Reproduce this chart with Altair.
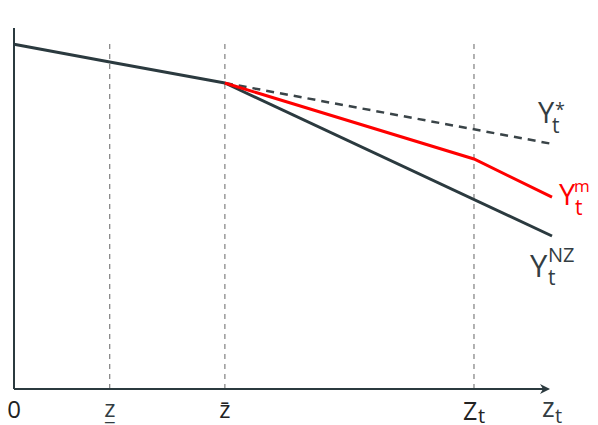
import altair as alt
import pandas as pd

# ---- data ----
tick_x = [0.0, 1.78, 3.92, 8.55]          # 0, z_, z-bar, Z_t
x_end = 10.0
common_x = [0.0, 1.78, 3.92]
common_y = [10.03, 9.51, 8.90]
nz_x = [3.92, 10.0]
nz_y = [8.90, 4.45]
m_x = [3.92, 8.55, 10.0]
m_y = [8.90, 6.69, 5.58]
star_x = [3.92, 10.0]
star_y = [8.90, 7.13]
y_top = 10.5
grid_top = 10.1
axis_x_end = 9.93
arrow_x = 9.87

DARK = "#2b3a3f"
TEXT = "#333d42"
RED = "#ff0000"
FONT = "Open Sans"

xs = alt.Scale(domain=[0, 10], nice=False, zero=False)
ys = alt.Scale(domain=[0, y_top], nice=False, zero=False)
X = lambda f="x": alt.X(f"{f}:Q", scale=xs, axis=None)
Y = lambda f="y": alt.Y(f"{f}:Q", scale=ys, axis=None)


def line(xv, yv, color, width=3, dash=None):
    df = pd.DataFrame({"x": xv, "y": yv})
    kw = dict(color=color, strokeWidth=width, strokeCap="butt")
    if dash:
        kw["strokeDash"] = dash
    return alt.Chart(df).mark_line(**kw).encode(x=X(), y=Y())


def label(text, x, y, dx, dy, size, color=TEXT, align="left"):
    df = pd.DataFrame({"x": [x], "y": [y], "t": [text]})
    return alt.Chart(df).mark_text(
        dx=dx, dy=dy, fontSize=size, font=FONT, color=color,
        align=align, baseline="alphabetic"
    ).encode(x=X(), y=Y(), text="t:N")


grid = alt.Chart(pd.DataFrame({"x": tick_x[1:], "y": [0] * 3, "y2": [grid_top] * 3})).mark_rule(
    color="#666666", strokeWidth=1, strokeDash=[5, 5]
).encode(x=X(), y=Y(), y2="y2:Q")

yaxis = alt.Chart(pd.DataFrame({"x": [0], "y": [0], "y2": [y_top]})).mark_rule(
    color=DARK, strokeWidth=2
).encode(x=X(), y=Y(), y2="y2:Q")
xaxis = alt.Chart(pd.DataFrame({"x": [0], "x2": [axis_x_end], "y": [0]})).mark_rule(
    color=DARK, strokeWidth=2
).encode(x=X(), x2="x2:Q", y=Y())
arrow = alt.Chart(pd.DataFrame({"x": [arrow_x], "y": [0]})).mark_point(
    shape="M1,0 L-1,-1 L-0.4,0 L-1,1 Z", filled=True, size=100, color=DARK, opacity=1
).encode(x=X(), y=Y())

layers = [
    grid,
    yaxis,
    xaxis,
    arrow,
    line(common_x, common_y, DARK),
    line(nz_x, nz_y, DARK),
    line(star_x, star_y, "#3a4448", width=2.5, dash=[8, 6]),
    line(m_x, m_y, RED),
    # x labels
    label("0", tick_x[0], 0, 0, 29, 24, color="#222222", align="center"),
    label("z", tick_x[1], 0, 0, 28, 24, align="center"),
    label("_", tick_x[1], 0, 0, 31, 22, align="center"),
    label("z\u0304", tick_x[2], 0, 0, 29, 24, color="#222222", align="center"),
    label("Z", tick_x[3], 0, -11, 31, 25, color="#222222"),
    label("t", tick_x[3], 0, 4, 34, 20, color="#222222"),
    label("z", x_end, 0, -10, 28, 27),
    label("t", x_end, 0, 3, 34, 20),
    # series labels
    label("Y", star_x[-1], star_y[-1], -14, -21, 29),
    label("*", star_x[-1], star_y[-1], 3, -28, 18),
    label("t", star_x[-1], star_y[-1], 0, -11, 21),
    label("Y", m_x[-1], m_y[-1], 7, 8, 29, color=RED),
    label("m", m_x[-1], m_y[-1], 22, -5, 17, color=RED),
    label("t", m_x[-1], m_y[-1], 23, 18, 21, color=RED),
    label("Y", nz_x[-1], nz_y[-1], -22, 41, 31),
    label("NZ", nz_x[-1], nz_y[-1], -4, 26, 20),
    label("t", nz_x[-1], nz_y[-1], -4, 49, 21),
]

chart = alt.layer(*layers).properties(
    width=538, height=361,
    autosize=alt.AutoSizeParams(type="none"),
    padding={"left": 6, "top": 20, "right": 38, "bottom": 36},
).configure_view(stroke=None)

chart.save("out.html", embed_options={"renderer": "svg", "actions": False})
